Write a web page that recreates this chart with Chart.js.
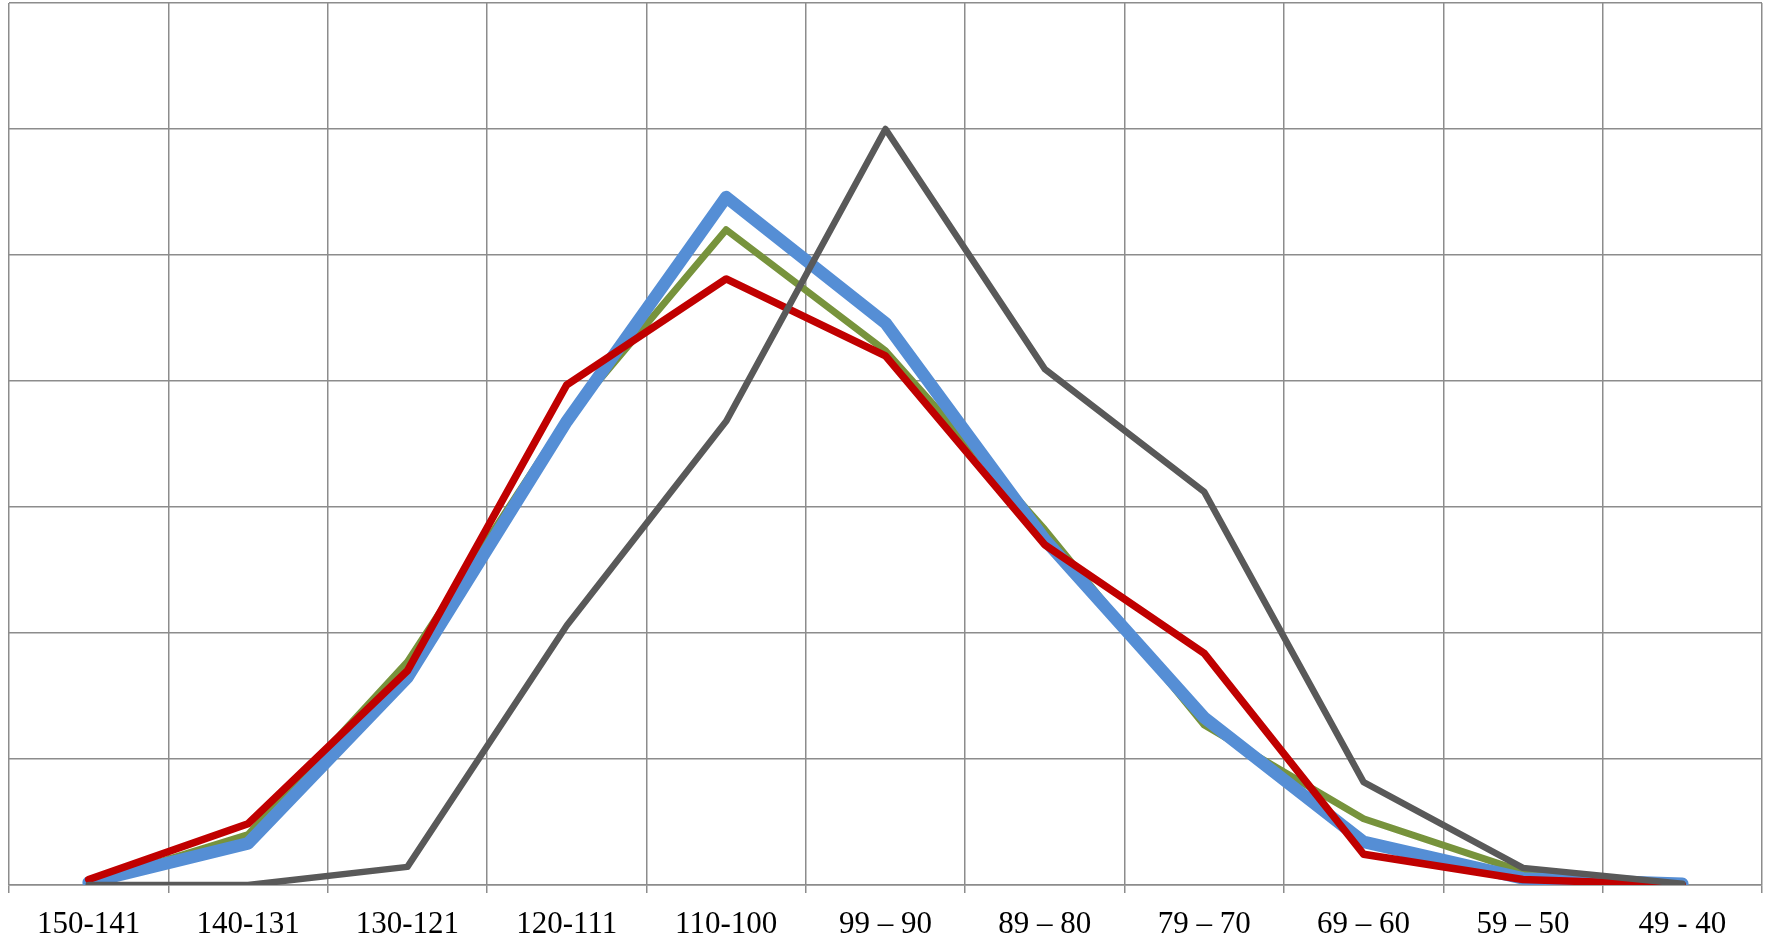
<!DOCTYPE html>
<html>
<head>
<meta charset="utf-8">
<script src="https://cdn.jsdelivr.net/npm/chart.js@4/dist/chart.umd.min.js"></script>
<style>
  body { margin: 0; background: #fff; }
  .box { width: 1767px; height: 937px; }
</style>
</head>
<body>
<div class="box"><canvas id="myChart"></canvas></div>
<script>
const grafico = document.getElementById('myChart')

// faixas (eixo x)
const faixas = ['150-141', '140-131', '130-121', '120-111', '110-100', '99 – 90', '89 – 80', '79 – 70', '69 – 60', '59 – 50', '49 - 40']

// series
const serieCinza = [0, 0, 0.72, 10.3, 18.4, 30, 20.47, 15.6, 4.08, 0.68, 0.05]
const serieVermelha = [0.22, 2.43, 8.5, 19.85, 24.05, 21.0, 13.5, 9.19, 1.22, 0.22, 0]
const serieAzul = [0.1, 1.65, 8.24, 18.4, 27.3, 22.3, 13.7, 6.64, 1.71, 0.26, 0.05]
const serieVerde = [0.05, 2.0, 8.85, 18.5, 26.0, 21.2, 14.1, 6.35, 2.63, 0.53, 0.05]

const yMin = 0
const yMax = 35
const yStep = 5

const corGrade = '#8c8c8c'

const linha = (dados, cor, largura) => ({
    data: dados,
    borderColor: cor,
    backgroundColor: cor,
    borderWidth: largura,
    pointRadius: 0,
    tension: 0,
    fill: false,
    borderJoinStyle: 'round',
    borderCapStyle: 'round'
})

// primeiro dataset fica por cima
new Chart(grafico, {
    type: 'line',
    data: {
        labels: faixas,
        datasets: [
            linha(serieCinza, '#595959', 6.5),
            linha(serieVermelha, '#C00000', 7.5),
            linha(serieAzul, '#558ED5', 12.5),
            linha(serieVerde, '#77933C', 7)
        ]
    },
    options: {
        responsive: true,
        maintainAspectRatio: false,
        animation: false,
        layout: { padding: { left: 9, right: 5, top: 3, bottom: 0 } },
        plugins: {
            legend: { display: false },
            tooltip: { enabled: false }
        },
        scales: {
            x: {
                offset: true,
                afterFit: (escala) => { escala.height = 52 },
                grid: {
                    offset: true,
                    color: corGrade,
                    lineWidth: 1.5,
                    tickLength: 8,
                    drawTicks: true
                },
                border: { color: corGrade, width: 1.5 },
                ticks: {
                    color: '#000',
                    padding: 16,
                    maxRotation: 0,
                    autoSkip: false,
                    font: { family: '"Liberation Serif", "Times New Roman", serif', size: 31, lineHeight: 1 }
                }
            },
            y: {
                min: yMin,
                max: yMax,
                grid: {
                    color: corGrade,
                    lineWidth: 1.5,
                    drawTicks: false
                },
                border: { display: false },
                ticks: { display: false, stepSize: yStep }
            }
        }
    }
})
</script>
</body>
</html>
